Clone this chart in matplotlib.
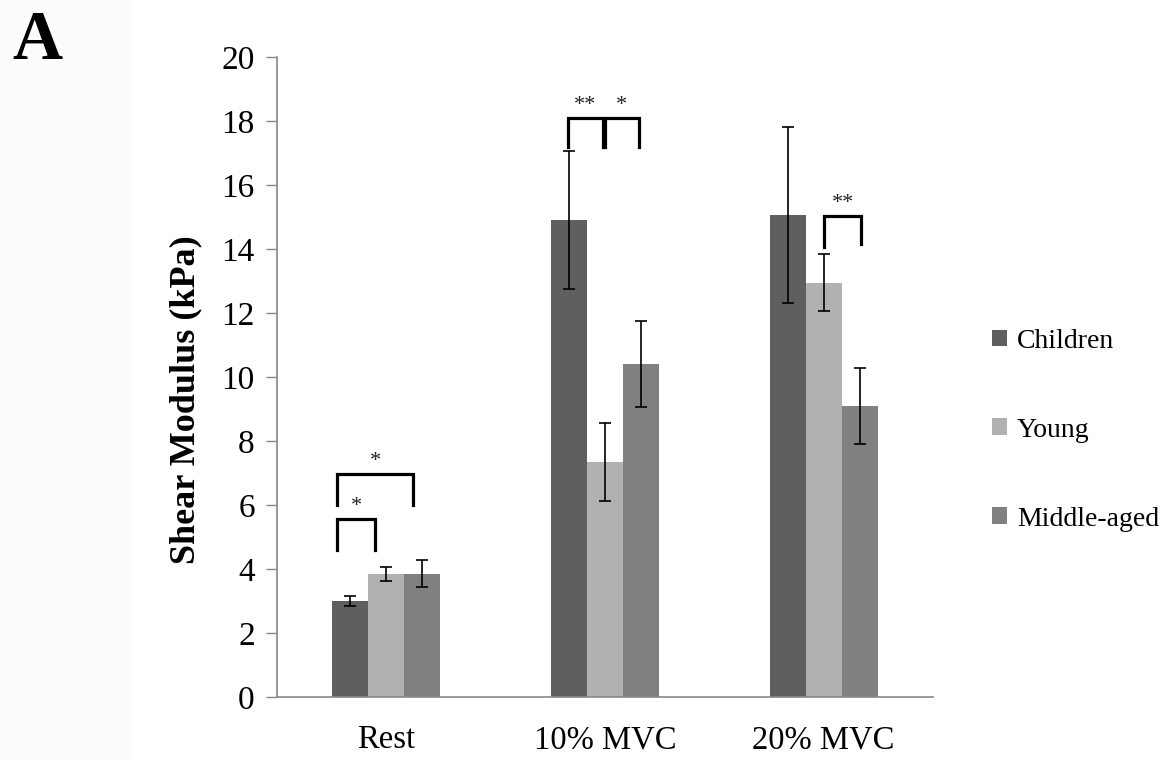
import matplotlib
matplotlib.use('Agg')
import matplotlib.pyplot as plt
import numpy as np

plt.rcParams['font.family'] = ['Liberation Serif', 'DejaVu Serif']

categories = ['Rest', '10% MVC', '20% MVC']
groups = ['Children', 'Young', 'Middle-aged']
means = {
    'Children': [3.0, 14.9, 15.05],
    'Young': [3.85, 7.35, 12.95],
    'Middle-aged': [3.85, 10.4, 9.1],
}
errors = {
    'Children': [0.15, 2.15, 2.75],
    'Young': [0.22, 1.22, 0.88],
    'Middle-aged': [0.42, 1.35, 1.18],
}
colors = {'Children': '#5f5f5f', 'Young': '#b1b1b1', 'Middle-aged': '#808080'}

# significance brackets: (category, x_left offset, x_right offset, top, left leg end, right leg end, label)
brackets = [
    (0, -0.224, -0.05, 5.56, 4.6, 4.6, '*'),
    (0, -0.224, 0.123, 6.97, 6.0, 6.0, '*'),
    (1, -0.169, -0.009, 18.1, 17.2, 17.2, '**'),
    (1, 0.0, 0.155, 18.1, 17.2, 17.2, '*'),
    (2, 0.003, 0.173, 15.03, 14.06, 14.15, '**'),
]

fig = plt.figure(figsize=(11.64, 7.6), dpi=100)
fig.patches.append(plt.Rectangle((0, 0), 0.112, 1, transform=fig.transFigure,
                                 color='#fbfbfb', zorder=0))
ax = fig.add_axes([0.238, 0.0829, 0.5635, 0.8421])

x = np.arange(len(categories))
w = 0.165
for i, g in enumerate(groups):
    ax.bar(x + (i - 1) * w, means[g], width=w, color=colors[g], label=g, zorder=2)
    ax.errorbar(x + (i - 1) * w, means[g], yerr=errors[g], fmt='none',
                ecolor='black', elinewidth=1.2, capsize=4, capthick=1.2, zorder=3)

for c, xl, xr, top, yl, yr, lab in brackets:
    ax.plot([c + xl, c + xl, c + xr, c + xr], [yl, top, top, yr],
            color='black', lw=2.3, solid_joinstyle='miter', zorder=4)
    ax.text(c + (xl + xr) / 2, top + 0.1, lab, ha='center', va='bottom',
            fontsize=16, color='#222222')

ax.set_xlim(-0.5, 2.5)
ax.set_ylim(0, 20)
ax.set_yticks(np.arange(0, 21, 2))
ax.set_xticks(x)
ax.set_xticklabels(categories, fontsize=23.5)
ax.tick_params(axis='y', labelsize=24, length=8, width=1, color='#888888', pad=8)
ax.tick_params(axis='x', length=0, pad=20)
for s in ['top', 'right']:
    ax.spines[s].set_visible(False)
for s in ['left', 'bottom']:
    ax.spines[s].set_color('#888888')
    ax.spines[s].set_linewidth(1.2)

ax.set_ylabel('Shear Modulus (kPa)', fontsize=26, fontweight='bold')
ax.yaxis.set_label_coords(-0.114, 0.464)

ax.legend(loc='center left', bbox_to_anchor=(1.052, 0.417), frameon=False,
          fontsize=20, handlelength=0.55, handleheight=0.55, handletextpad=0.35,
          labelspacing=2.3)

fig.text(0.0103, 1 - 59 / 760, 'A', fontsize=50, fontweight='bold',
         ha='left', va='baseline')

fig.savefig('out.png', dpi=100, facecolor='white')
